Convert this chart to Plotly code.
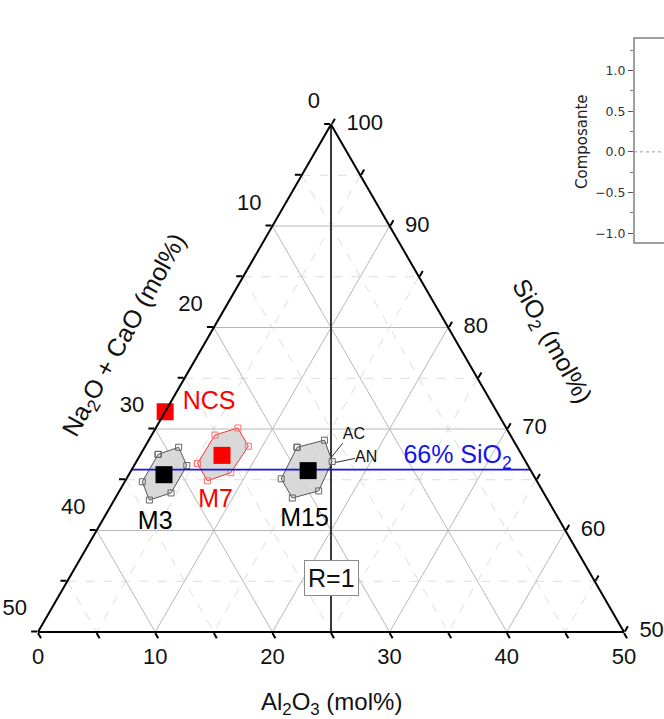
import plotly.graph_objects as go

# ---------------- axis ticks (mol%) ----------------
sio2_ticks = [50, 60, 70, 80, 90, 100]
flux_ticks = [0, 10, 20, 30, 40, 50]      # Na2O + CaO
al2o3_ticks = [0, 10, 20, 30, 40, 50]
major_sio2 = [60, 70, 80, 90]
major_flux = [10, 20, 30, 40]
major_al2o3 = [10, 20, 30, 40]
minor_sio2 = [55, 65, 75, 85, 95]
minor_flux = [5, 15, 25, 35, 45]
minor_al2o3 = [5, 15, 25, 35, 45]

# ---------------- glass compositions (SiO2, Na2O+CaO, Al2O3) ----------------
samples = ["NCS", "M3", "M7", "M15"]
sample_sio2 = [71.7, 65.5, 67.4, 65.9]
sample_flux = [28.3, 31.5, 25.6, 19.0]
sample_al2o3 = [0.0, 3.0, 7.0, 15.1]
sample_colors = ["#ff0000", "#000000", "#ff0000", "#000000"]

# composition domains (hexagon corners) around M3, M7, M15
m3_sio2 = [67.5, 68.2, 66.4, 63.7, 63.0, 64.8]
m3_flux = [31.0, 28.9, 29.1, 31.8, 34.0, 33.7]
m3_al2o3 = [1.5, 2.9, 4.5, 4.5, 3.0, 1.5]

m7_sio2 = [66.6, 69.4, 70.1, 68.3, 65.7, 64.9]
m7_flux = [28.1, 25.2, 22.9, 22.9, 25.7, 28.1]
m7_al2o3 = [5.3, 5.4, 7.0, 8.8, 8.6, 7.0]

m15_sio2 = [68.2, 68.9, 66.8, 63.9, 63.2, 65.1]
m15_flux = [18.8, 16.1, 16.5, 19.1, 21.7, 21.7]
m15_al2o3 = [13.0, 15.0, 16.7, 17.0, 15.1, 13.2]

# reference lines
sio2_limit = 66          # 66 % SiO2
# AC / AN leader lines (start, end) and their label
leader_names = ["AC", "AN"]
leader_sio2 = [[67.1, 68.6], [66.7, 67.1]]
leader_flux = [[16.5, 14.7], [16.3, 14.4]]
leader_al2o3 = [[16.4, 16.7], [17.0, 18.5]]

# sample label anchors (SiO2, Na2O+CaO, Al2O3)
label_text = ["NCS", "M3", "M7", "M15"]
label_sio2 = [72.6, 60.8, 62.9, 61.1]
label_flux = [24.1, 34.6, 28.4, 21.7]
label_al2o3 = [3.3, 4.6, 8.7, 17.2]

# PCA component axis (inset)
comp_ticks = [-1.0, -0.5, 0.0, 0.5, 1.0]
comp_range = [-1.12, 1.40]

FONT = "Liberation Sans, Arial, sans-serif"
CLEAR = "rgba(0,0,0,0)"
fig = go.Figure()


def segments(sio2_vals, flux_vals, al2o3_vals):
    """Endpoints of iso-lines of each component, separated by gaps."""
    a, b, c = [], [], []

    def add(p, q):
        for pt in (p, q):
            a.append(pt[0]); b.append(pt[1]); c.append(pt[2])
        a.append(None); b.append(None); c.append(None)

    for v in sio2_vals:
        add((v, 100 - v, 0), (v, 0, 100 - v))
    for v in flux_vals:
        add((100 - v, v, 0), (50, v, 50 - v))
    for v in al2o3_vals:
        add((100 - v, 0, v), (50, 50 - v, v))
    return a, b, c


# grid: dashed minor lines every 5 %, solid major lines every 10 %
for vals, color, dash in [((minor_sio2, minor_flux, minor_al2o3), "#dcdcdc", "dash"),
                          ((major_sio2, major_flux, major_al2o3), "#b8b8b8", "solid")]:
    a, b, c = segments(*vals)
    fig.add_trace(go.Scatterternary(a=a, b=b, c=c, mode="lines",
                                    line=dict(color=color, width=1, dash=dash),
                                    hoverinfo="skip", showlegend=False))

# R = 1 line (Al2O3 = Na2O + CaO)
r1_sio2 = [100, 50]
fig.add_trace(go.Scatterternary(
    a=r1_sio2, b=[(100 - v) / 2 for v in r1_sio2], c=[(100 - v) / 2 for v in r1_sio2],
    mode="lines", line=dict(color="#3a3a3a", width=2), hoverinfo="skip", showlegend=False))

# composition domains
for s, f, al, line_c, mark_c in [(m3_sio2, m3_flux, m3_al2o3, "#555555", "#666666"),
                                 (m7_sio2, m7_flux, m7_al2o3, "#ff3030", "#ff7070"),
                                 (m15_sio2, m15_flux, m15_al2o3, "#555555", "#666666")]:
    fig.add_trace(go.Scatterternary(
        a=s + s[:1], b=f + f[:1], c=al + al[:1], mode="lines+markers", fill="toself",
        fillcolor="rgba(210,210,210,0.85)", line=dict(color=line_c, width=1),
        marker=dict(symbol="square-open", size=6, color=mark_c, line=dict(width=1)),
        hoverinfo="skip", showlegend=False))

# 66 % SiO2 line
fig.add_trace(go.Scatterternary(
    a=[sio2_limit, sio2_limit], b=[100 - sio2_limit, 0], c=[0, 100 - sio2_limit],
    mode="lines", line=dict(color="#1414f0", width=1.6), hoverinfo="skip", showlegend=False))
fig.add_trace(go.Scatterternary(
    a=[sio2_limit], b=[6.2], c=[27.8], mode="text",
    text=["66% SiO<sub>2</sub>"], textposition="top center",
    textfont=dict(family=FONT, size=25, color="#1414f0"), cliponaxis=False,
    hoverinfo="skip", showlegend=False))

# AC / AN leader lines and labels
for name, s, f, al, pos in zip(leader_names, leader_sio2, leader_flux, leader_al2o3,
                               ["top right", "middle right"]):
    fig.add_trace(go.Scatterternary(a=s, b=f, c=al, mode="lines",
                                    line=dict(color="#333333", width=1),
                                    hoverinfo="skip", showlegend=False))
    fig.add_trace(go.Scatterternary(a=s[1:], b=f[1:], c=al[1:], mode="text", text=[name],
                                    textposition=pos, cliponaxis=False,
                                    textfont=dict(family=FONT, size=16, color="#111111"),
                                    hoverinfo="skip", showlegend=False))

# glass compositions
fig.add_trace(go.Scatterternary(
    a=sample_sio2, b=sample_flux, c=sample_al2o3, mode="markers", text=samples,
    marker=dict(symbol="square", size=17, color=sample_colors, line=dict(width=0)),
    cliponaxis=False, showlegend=False))

fig.add_trace(go.Scatterternary(
    a=label_sio2, b=label_flux, c=label_al2o3, mode="text", text=label_text,
    textposition="middle center", cliponaxis=False,
    textfont=dict(family=FONT, size=25, color=sample_colors),
    hoverinfo="skip", showlegend=False))

# tick labels: anchored on the triangle edges; an invisible marker sets the gap
tick_font = dict(family=FONT, size=22, color="#111111")


def tick_label_trace(a, b, c, labels, position, gap):
    return go.Scatterternary(
        a=a, b=b, c=c, mode="markers+text", text=[str(v) for v in labels],
        textposition=position, textfont=tick_font, cliponaxis=False,
        marker=dict(size=gap, color=CLEAR, line=dict(width=0)),
        hoverinfo="skip", showlegend=False)


fig.add_trace(tick_label_trace(sio2_ticks, [0] * len(sio2_ticks),
                               [100 - v for v in sio2_ticks], sio2_ticks, "middle right", 23))
fig.add_trace(tick_label_trace([100 - v for v in flux_ticks], flux_ticks,
                               [0] * len(flux_ticks), flux_ticks, "top left", 16))
fig.add_trace(tick_label_trace([50] * len(al2o3_ticks), [50 - v for v in al2o3_ticks],
                               al2o3_ticks, al2o3_ticks, "bottom center", 24))

# inset: PCA component axis
fig.add_trace(go.Scatter(x=[0, 1], y=[0, 0], mode="lines", xaxis="x2", yaxis="y2",
                         line=dict(color="#9a9a9a", width=1, dash="dot"),
                         hoverinfo="skip", showlegend=False))

W, H = 664, 719
TRI_W = 586                              # triangle width in pixels
TRI_H = TRI_W * 3 ** 0.5 / 2
TRI_BOTTOM = 87                          # pixels above the bottom edge
tern_axis = dict(showgrid=False, showticklabels=False, ticks="outside", tick0=0, dtick=5,
                 ticklen=6, tickwidth=1.5, tickcolor="#000000", linecolor="#000000",
                 linewidth=2, title=dict(text=""))

centered = dict(xref="paper", yref="paper", showarrow=False, xanchor="center", yanchor="middle")

fig.update_layout(
    width=W, height=H, margin=dict(l=0, r=0, t=0, b=0),
    paper_bgcolor="white", plot_bgcolor="white", showlegend=False,
    font=dict(family=FONT, color="#111111"),
    ternary=dict(
        sum=100, bgcolor="white",
        domain=dict(x=[(331 - TRI_W / 2) / W, (331 + TRI_W / 2) / W],
                    y=[TRI_BOTTOM / H, (TRI_BOTTOM + TRI_H) / H]),
        aaxis=dict(min=50, **tern_axis),
        baxis=dict(min=0, **tern_axis),
        caxis=dict(min=0, **tern_axis),
    ),
    xaxis2=dict(domain=[634 / W, 1.0], range=[0, 1], visible=False, anchor="y2"),
    yaxis2=dict(domain=[1 - 243 / H, 1 - 38 / H], range=comp_range, anchor="x2",
                tickvals=comp_ticks, ticktext=[f"{v:.1f}".replace("-", "\u2212") for v in comp_ticks],
                ticks="outside", ticklen=5, tickwidth=1, tickcolor="#555555",
                minor=dict(ticks="outside", dtick=0.25, tick0=0, ticklen=3, tickcolor="#777777"),
                showgrid=False, zeroline=False, showline=False,
                tickfont=dict(family="DejaVu Sans", size=12.5, color="#333333")),
    shapes=[dict(type="rect", xref="paper", yref="paper", x0=634 / W, x1=1.2,
                 y0=1 - 243 / H, y1=1 - 38 / H, line=dict(color="#808080", width=1.5))],
    annotations=[
        dict(text="Al<sub>2</sub>O<sub>3</sub> (mol%)", x=331 / W, y=1 - 703 / H,
             font=dict(size=24), **centered),
        dict(text="Na<sub>2</sub>O + CaO (mol%)", x=125 / W, y=1 - 336 / H, textangle=-61,
             font=dict(size=25), **centered),
        dict(text="SiO<sub>2</sub> (mol%)", x=551 / W, y=1 - 342 / H, textangle=61,
             font=dict(size=25), **centered),
        dict(text="R=1", x=331 / W, y=1 - 578 / H, font=dict(size=25), bgcolor="white",
             bordercolor="#8a8a8a", borderwidth=1, borderpad=3, **centered),
        dict(text="Composante", x=582 / W, y=1 - 142 / H, textangle=-90,
             font=dict(family="DejaVu Sans", size=15, color="#222222"), **centered),
    ],
)

fig.write_html("out.html")
